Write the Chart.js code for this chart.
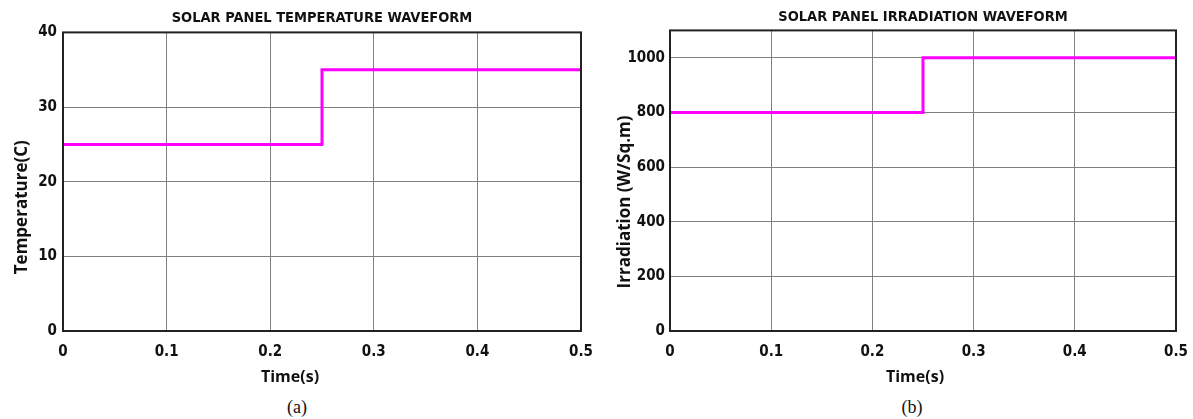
<!DOCTYPE html>
<html>
<head>
<meta charset="utf-8">
<script src="https://cdn.jsdelivr.net/npm/chart.js@4"></script>
<style>
  html, body { margin: 0; padding: 0; background: #fff; }
  body { width: 1193px; height: 419px; position: relative; overflow: hidden; }
  .box { position: absolute; top: 0; height: 392px; }
  .cap { position: absolute; top: 397px; font: 18px "Liberation Serif", "Times New Roman", serif; color: #111; transform: translateX(-50%); }
</style>
</head>
<body>
<div class="box" style="left:0;width:600px"><canvas id="tempChart"></canvas></div>
<div class="box" style="left:600px;width:593px"><canvas id="irrChart"></canvas></div>
<div class="cap" style="left:297px">(a)</div>
<div class="cap" style="left:912px">(b)</div>
<script>
// step times where the input changes (s)
const times = [0, 0.25, 0.5];
const temperature = [25, 35, 35];   // C
const irradiation = [800, 1000, 1000]; // W/Sq.m
const timeTicks = [0, 0.1, 0.2, 0.3, 0.4, 0.5];
const tempTicks = [0, 10, 20, 30, 40];
const irrTicks = [0, 200, 400, 600, 800, 1000];

const narrow = '"Liberation Sans Narrow", "Arial Narrow", "DejaVu Sans Condensed", sans-serif';
const tickFont = { family: narrow, size: 15, weight: 'bold' };
const labelFont = { family: '"Open Sans", sans-serif', size: 16, weight: 'bold' };
const sp = n => '\u2002'.repeat(n); // pads the axis titles off-centre like the original

// black frame round the plot area
const frame = {
    id: 'frame',
    afterDraw(chart) {
        const { ctx, chartArea: a } = chart;
        ctx.save();
        ctx.strokeStyle = '#222';
        ctx.lineWidth = 2;
        ctx.strokeRect(a.left, a.top, a.right - a.left, a.bottom - a.top);
        ctx.restore();
    }
};

function makeChart(id, values, yTicks, yMax, title, yTitle, xTitle, o) {
    new Chart(document.getElementById(id), {
        type: 'line',
        data: {
            datasets: [{
                data: times.map((t, i) => ({ x: t, y: values[i] })),
                borderColor: '#ff00ff',
                borderWidth: 3,
                pointRadius: 0,
                stepped: 'before',
                fill: false
            }]
        },
        options: {
            responsive: true,
            maintainAspectRatio: false,
            animation: false,
            layout: { padding: { left: 0, right: o.right, top: 0, bottom: 0 } },
            plugins: {
                legend: { display: false },
                tooltip: { enabled: false },
                title: {
                    display: true,
                    text: title,
                    fullSize: false,
                    color: '#111',
                    font: { family: narrow, size: 14.5, weight: 'bold' },
                    padding: { top: o.titleTop, bottom: o.titleBottom }
                }
            },
            scales: {
                x: {
                    type: 'linear',
                    min: 0,
                    max: 0.5,
                    afterBuildTicks: s => { s.ticks = timeTicks.map(v => ({ value: v })); },
                    afterFit: s => { s.height = 61; s.paddingLeft = 0; s.paddingRight = 0; },
                    grid: { color: '#808080', lineWidth: 1, drawTicks: false },
                    border: { display: false },
                    ticks: { color: '#111', font: tickFont, padding: 12, maxRotation: 0, callback: v => String(v) },
                    title: { display: true, text: xTitle, color: '#111', font: labelFont, padding: { top: 0, bottom: 5 } }
                },
                y: {
                    min: 0,
                    max: yMax,
                    afterBuildTicks: s => { s.ticks = yTicks.map(v => ({ value: v })); },
                    afterFit: s => { s.width = o.yWidth; },
                    grid: { color: '#808080', lineWidth: 1, drawTicks: false },
                    border: { display: false },
                    ticks: { color: '#111', font: tickFont, padding: o.tickPad, callback: v => String(v) },
                    title: { display: true, text: yTitle, color: '#111', font: { family: labelFont.family, size: 17, weight: 'bold' }, padding: { top: o.yTitlePad, bottom: 0 } }
                }
            }
        },
        plugins: [frame]
    });
}

makeChart('tempChart', temperature, tempTicks, 40, 'SOLAR PANEL TEMPERATURE WAVEFORM',
    'Temperature(C)' + sp(6), 'Time(s)' + sp(8),
    { right: 19, yWidth: 63, tickPad: 6, yTitlePad: 12, titleTop: 10, titleBottom: 5 });
makeChart('irrChart', irradiation, irrTicks, 1100, 'SOLAR PANEL IRRADIATION WAVEFORM',
    'Irradiation (W/Sq.m)' + sp(5), 'Time(s)' + sp(2),
    { right: 17, yWidth: 70, tickPad: 5, yTitlePad: 15, titleTop: 9, titleBottom: 4 });
</script>
</body>
</html>
